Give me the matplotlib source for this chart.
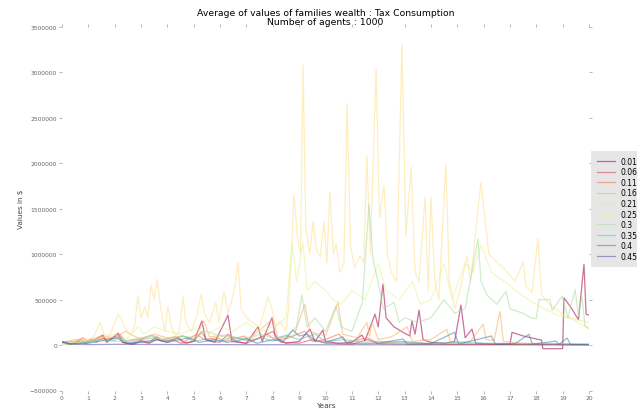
import numpy as np
import matplotlib.pyplot as plt

# tax rates shown in the legend
rates = ['0.01', '0.06', '0.11', '0.16', '0.21', '0.25', '0.3', '0.35', '0.4', '0.45']

# average wealth per rate (years, thousands of $)
x_001 = [0, 0.3, 0.6, 0.9, 1.2, 1.55, 1.7, 2.13, 2.3, 2.7, 3.0, 3.3, 3.6, 4.0, 4.4, 4.7, 5.0, 5.31, 5.45,
         5.8, 6.3, 6.45, 7.0, 7.44, 7.6, 7.97, 8.1, 8.5, 9.0, 9.41, 9.6, 9.9, 10.0, 10.5, 11.0, 11.38, 11.5,
         11.88, 12.0, 12.18, 12.3, 12.6, 13.0, 13.2, 13.28, 13.4, 13.55, 13.7, 14.0, 14.5, 14.9, 15.14, 15.3,
         15.56, 15.7, 16.5, 17.0, 17.08, 17.5, 18.1, 18.2, 18.25, 19.0, 19.05, 19.3, 19.6, 19.81, 19.89, 20]
y_001 = [30, 10, 40, 20, 50, 110, 30, 130, 30, 10, 40, 20, 60, 30, 80, 20, 40, 265, 60,
         30, 330, 40, 20, 200, 40, 300, 80, 20, 40, 175, 40, 165, 40, 20, 30, 110, 50,
         340, 200, 670, 300, 200, 130, 100, 265, 120, 385, 60, 30, 20, 40, 440, 80,
         175, 20, 10, 10, 140, 100, 60, 55, -40, -40, 520, 420, 280, 890, 340, 330]

x_006 = [0, 0.2, 0.5, 0.7, 0.9, 1.1, 1.3, 1.55, 1.7, 2.1, 2.3, 2.6, 3.0, 3.3, 3.6, 3.8, 4.2, 4.5, 5.0,
         5.3, 5.5, 6.0, 6.3, 6.6, 7.0, 7.5, 8.0, 8.3, 9.0, 9.5, 10.0, 11.0, 11.6, 12.0, 14.0, 20]
y_006 = [30, 10, 20, 60, 30, 70, 30, 90, 40, 100, 30, 10, 50, 30, 90, 40, 60, 20, 40,
         150, 50, 30, 120, 40, 20, 80, 150, 30, 20, 60, 20, 10, 60, 15, 10, 5]

x_011 = [0, 0.5, 0.8, 1.0, 1.5, 2.0, 2.2, 2.4, 3.0, 3.4, 3.7, 4.3, 4.6, 5.1, 5.4, 5.9, 6.2, 6.9, 7.2,
         7.8, 8.1, 8.6, 9.2, 9.5, 10.0, 10.5, 10.8, 11.6, 12.0, 13.0, 13.8, 15.0, 20]
y_011 = [30, 40, 80, 40, 70, 80, 120, 40, 70, 110, 50, 90, 30, 120, 60, 80, 40, 100, 40,
         120, 50, 80, 150, 40, 60, 120, 30, 80, 20, 40, 15, 10, 5]

x_016 = [0, 0.5, 1.0, 1.5, 2.0, 2.4, 3.0, 3.5, 4.0, 4.6, 5.0, 5.39, 5.6, 6.2, 6.7, 7.2, 8.0, 8.2, 8.8,
         9.22, 9.4, 10.0, 10.47, 10.65, 11.2, 11.57, 11.67, 11.77, 12.0, 12.5, 13.1, 13.3, 14.0, 14.6,
         14.75, 15.5, 15.98, 16.1, 16.4, 16.62, 16.75, 17.5, 18.5, 20]
y_016 = [30, 60, 50, 100, 80, 150, 60, 120, 80, 100, 60, 265, 90, 110, 70, 90, 285, 80, 100,
         450, 150, 100, 470, 120, 80, 250, 100, 250, 60, 90, 200, 40, 60, 175,
         30, 40, 230, 60, 50, 370, 40, 20, 15, 10]

x_021 = [0, 0.3, 0.5, 0.8, 1.0, 1.2, 1.44, 1.6, 1.8, 2.13, 2.25, 2.4, 2.6, 2.75, 2.88, 3.0, 3.15, 3.25,
         3.38, 3.5, 3.61, 3.75, 3.9, 4.02, 4.15, 4.3, 4.45, 4.59, 4.7, 4.9, 5.1, 5.28, 5.4, 5.6, 5.84,
         5.95, 6.15, 6.3, 6.45, 6.57, 6.68, 6.8, 7.0, 7.2, 7.5, 7.82, 7.95, 8.1, 8.3, 8.5, 8.6, 8.73,
         8.8, 8.95, 9.05, 9.15, 9.25, 9.4, 9.53, 9.65, 9.8, 9.94, 10.05, 10.17, 10.3, 10.4, 10.55, 10.7,
         10.82, 10.95, 11.1, 11.31, 11.45, 11.57, 11.7, 11.92, 12.05, 12.22, 12.35, 12.5, 12.7, 12.9,
         13.05, 13.25, 13.4, 13.55, 13.78, 13.9, 14.0, 14.15, 14.3, 14.57, 14.7, 14.9, 15.1, 15.37,
         15.5, 15.9, 16.2, 16.81, 17.2, 17.5, 17.6, 17.84, 18.06, 18.2, 18.5, 19.09, 19.5, 20]
y_021 = [20, 10, 40, 60, 50, 90, 250, 120, 100, 340, 290, 180, 120, 200, 540, 300, 420, 300,
         660, 500, 726, 400, 150, 430, 200, 100, 150, 540, 250, 150, 300, 560, 350, 250, 470,
         250, 590, 350, 500, 650, 910, 400, 300, 250, 200, 530, 420, 200, 250, 150, 400, 1130,
         1660, 1150, 1000, 3080, 1300, 1000, 1360, 1050, 970, 1360, 900, 1680, 1000, 1110, 800, 900,
         2660, 1100, 850, 980, 900, 2080, 1000, 3040, 1400, 1750, 1000, 800, 700, 3310,
         1200, 1960, 800, 700, 1630, 600, 1630, 700, 500, 1990, 700, 400, 600, 980,
         700, 1790, 1000, 830, 700, 920, 650, 580, 1170, 550, 450, 320, 280, 250]

x_025 = [0, 0.5, 1.0, 1.5, 2.0, 2.2, 2.5, 2.9, 3.1, 3.5, 4.0, 4.5, 5.0, 5.5, 6.0, 6.5, 7.0, 7.5, 8.0,
         8.5, 8.73, 8.9, 9.15, 9.3, 9.6, 10.0, 10.3, 10.6, 11.0, 11.5, 12.0, 12.3, 12.8, 13.3, 13.6,
         14.0, 14.5, 14.8, 15.3, 15.6, 15.9, 16.3, 16.8, 17.3, 17.8, 18.3, 18.8, 19.4, 20]
y_025 = [15, 30, 40, 80, 120, 60, 80, 200, 120, 200, 150, 120, 180, 120, 200, 150, 250, 150, 200,
         300, 1130, 700, 1130, 600, 700, 600, 500, 450, 600, 500, 900, 600, 500, 700, 450,
         500, 900, 500, 900, 800, 1100, 800, 700, 580, 480, 400, 330, 280, 180]

x_030 = [0, 0.5, 1.0, 1.5, 2.0, 2.5, 3.0, 3.5, 4.0, 4.5, 5.0, 5.5, 6.0, 6.5, 7.0, 7.5, 8.0, 8.5, 8.9,
         9.1, 9.3, 9.6, 10.0, 10.4, 10.6, 11.0, 11.4, 11.65, 11.8, 11.99, 12.2, 12.6, 12.8, 13.0, 13.5,
         14.0, 14.5, 14.9, 15.3, 15.79, 15.9, 16.13, 16.5, 16.85, 17.0, 17.5, 17.8, 18.0, 18.1, 18.52,
         18.6, 18.98, 19.2, 19.47, 19.6, 19.73, 19.85, 20]
y_030 = [10, 20, 30, 60, 40, 50, 80, 100, 60, 100, 80, 150, 100, 80, 60, 120, 80, 100, 200,
         550, 200, 300, 150, 430, 200, 150, 470, 1550, 950, 700, 400, 470, 250, 300, 250,
         300, 500, 350, 400, 1170, 700, 550, 450, 590, 400, 350, 300, 290, 500, 500,
         380, 540, 300, 610, 320, 540, 210, 180]

x_035 = [0, 0.5, 1.0, 1.5, 2.0, 2.2, 2.5, 3.0, 3.5, 4.0, 4.6, 5.0, 5.5, 6.0, 6.5, 7.0, 7.6, 8.0, 8.5,
         9.0, 9.6, 10.0, 10.7, 11.5, 12.0, 13.0, 14.0, 15.0, 16.0, 20]
y_035 = [30, 10, 40, 60, 50, 90, 20, 60, 80, 40, 100, 40, 70, 40, 90, 50, 80, 40, 110,
         60, 120, 40, 60, 30, 40, 30, 20, 30, 20, 10]

x_040 = [0, 0.3, 1.0, 1.6, 2.1, 2.4, 3.0, 3.6, 4.0, 4.8, 5.2, 5.8, 6.3, 7.0, 7.4, 8.0, 8.4, 8.77, 9.0,
         9.3, 9.6, 10.0, 10.66, 10.8, 11.5, 12.0, 12.94, 13.1, 14.0, 14.9, 15.05, 16.3, 16.45, 17.2,
         17.72, 17.85, 18.75, 18.85, 19.17, 19.3, 20]
y_040 = [40, 15, 20, 50, 80, 20, 30, 60, 30, 80, 30, 60, 30, 70, 20, 60, 40, 165, 100,
         120, 50, 30, 90, 20, 15, 20, 66, 10, 15, 140, 10, 100, 10, 15,
         120, 10, 44, 5, 77, 5, 5]

x_045 = [0, 0.3, 1, 2, 5, 10, 20]
y_045 = [35, 10, 5, 8, 5, 3, 2]

xs = [x_001, x_006, x_011, x_016, x_021, x_025, x_030, x_035, x_040, x_045]
ys = [y_001, y_006, y_011, y_016, y_021, y_025, y_030, y_035, y_040, y_045]

colors = ['#9e0142', '#d53e4f', '#f46d43', '#fdae61', '#fee08b',
          '#e6f598', '#abdda4', '#66c2a5', '#3288bd', '#5e4fa2']

fig = plt.figure(figsize=(6.37, 4.14), dpi=100)
ax = fig.add_axes([62 / 637, 22.5 / 414, 527 / 637, 363.5 / 414])

for x, y, c, r in zip(xs, ys, colors, rates):
    ax.plot(x, np.array(y) * 1000, color=c, alpha=0.55, lw=0.9, label=r)

ax.set_xlim(0, 20)
ax.set_ylim(-500000, 3500000)
ax.set_xticks(range(0, 21))
ax.set_yticks(np.arange(-500000, 3500001, 500000))
ax.ticklabel_format(style='plain', axis='y')
for s in ax.spines.values():
    s.set_visible(False)
ax.tick_params(top=True, right=True, direction='out', length=2, width=0.6,
               color='#aaaaaa', labelcolor='#666666', labelsize=4.3, pad=1.5)

ax.set_title("Average of values of families wealth : Tax Consumption\nNumber of agents : 1000",
             fontsize=6.7, pad=2, linespacing=1.1)
ax.set_xlabel("Years", fontsize=5.4, color='#444444', labelpad=1)
ax.set_ylabel("Values in $", fontsize=5.2, color='#444444', labelpad=4)

ax.legend(loc='center left', bbox_to_anchor=(1.004, 0.5), borderaxespad=0,
          fontsize=5.5, labelspacing=0.2, handlelength=2.3, borderpad=0.8,
          frameon=True, facecolor='#e6e6e6', edgecolor='none', framealpha=1, fancybox=False)

plt.savefig("out.png", dpi=100)
